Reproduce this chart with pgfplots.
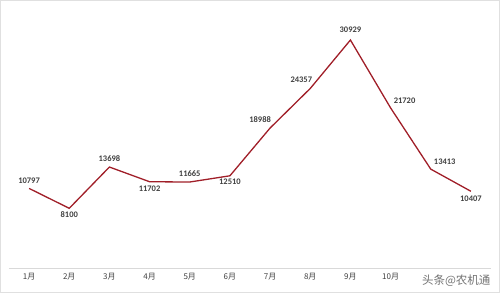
\documentclass[border=0pt]{standalone}
\usepackage{fontspec}
\setmainfont{Carlito}
\newfontfamily\cjk{Noto Sans CJK SC}
\usepackage{pgfplots}
\pgfplotsset{compat=1.18}
\definecolor{linered}{RGB}{160,30,40}
\definecolor{lbl}{RGB}{64,64,64}
\begin{document}
\begin{tikzpicture}[x=1pt,y=1pt]
\useasboundingbox (0,0) rectangle (500,293);
\draw[black!12,line width=0.8pt] (0.5,0.5) rectangle (499.5,292.5);
\begin{axis}[
  at={(9pt,25pt)}, anchor=south west,
  scale only axis, width=482pt, height=258pt,
  xmin=0.5, xmax=12.5, ymin=0, ymax=35000,
  axis x line*=bottom, axis y line=none,
  x axis line style={black!15,line width=0.8pt,-},
  xtick={1,...,10},
  xticklabels={1月,2月,3月,4月,5月,6月,7月,8月,9月,10月},
  xticklabel style={font=\cjk\fontsize{8}{9}\selectfont, text=lbl, yshift=-2pt},
  major tick length=0pt,
  clip=false,
]
\addplot[linered, line width=1.3pt, mark=none] coordinates {
(1,10797) (2,8100) (3,13698) (4,11702) (5,11665) (6,12510)
(7,18988) (8,24357) (9,30929) (10,21720) (11,13413) (12,10407)};
\tikzset{dl/.style={font=\fontsize{8.5}{10}\selectfont\bfseries, text=lbl, inner sep=2pt}}
\node[dl,anchor=south] at (axis cs:1,10797) [yshift=3pt] {10797};
\node[dl,anchor=north] at (axis cs:2,8100) [yshift=-1pt] {8100};
\node[dl,anchor=south] at (axis cs:3,13698) [yshift=3pt] {13698};
\node[dl,anchor=north] at (axis cs:4,11702) [yshift=-2pt] {11702};
\node[dl,anchor=south] at (axis cs:5,11665) [yshift=3pt] {11665};
\node[dl,anchor=north] at (axis cs:6,12510) [yshift=-1pt] {12510};
\node[dl,anchor=south east] at (axis cs:7,18988) [xshift=3pt,yshift=3pt] {18988};
\node[dl,anchor=south east] at (axis cs:8,24357) [xshift=4pt,yshift=4pt] {24357};
\node[dl,anchor=south] at (axis cs:9,30929) [yshift=5pt] {30929};
\node[dl,anchor=south west] at (axis cs:10,21720) [xshift=1pt,yshift=2pt] {21720};
\node[dl,anchor=south west] at (axis cs:11,13413) [xshift=1pt,yshift=2pt] {13413};
\node[dl,anchor=north] at (axis cs:12,10407) [yshift=-2pt] {10407};
\end{axis}
\node[font=\cjk\fontsize{11.5}{13}\selectfont, text=black!55, anchor=east] at (494,12) {头条@农机通};
\end{tikzpicture}
\end{document}
